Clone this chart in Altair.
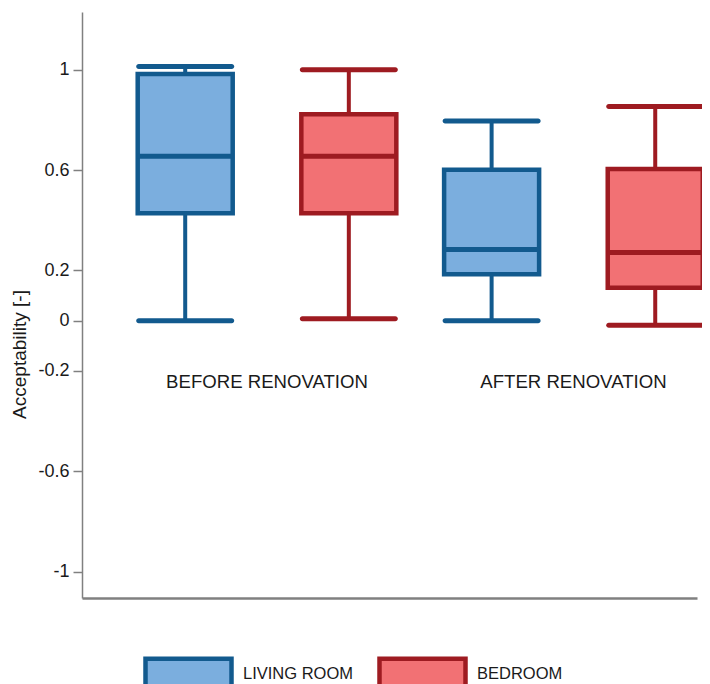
import altair as alt
import pandas as pd

# ---- data ----
groups = ["BEFORE RENOVATION", "AFTER RENOVATION"]
rooms = ["LIVING ROOM", "BEDROOM"]

box_group = [0, 0, 1, 1]
box_room = ["LIVING ROOM", "BEDROOM", "LIVING ROOM", "BEDROOM"]
whisker_low = [0.0, 0.008, 0.0, -0.018]
q1 = [0.428, 0.428, 0.185, 0.131]
median = [0.655, 0.655, 0.284, 0.272]
q3 = [0.983, 0.823, 0.601, 0.604]
whisker_high = [1.013, 1.0, 0.796, 0.853]

y_ticks = [1, 0.6, 0.2, 0, -0.2, -0.6, -1]

fill_colors = ["#7BAEDE", "#F27174"]
edge_colors = ["#125A8E", "#9E1B21"]

edge_of = dict(zip(rooms, edge_colors))
df = pd.DataFrame({
    "g": box_group,
    "room": box_room,
    "edge": [edge_of[r] for r in box_room],
    "lo": whisker_low,
    "q1": q1,
    "med": median,
    "q3": q3,
    "hi": whisker_high,
})
labels_df = pd.DataFrame({"g": [0, 1], "label": groups})

x_scale = alt.Scale(domain=[-0.5875, 1.387], nice=False, zero=False)
y_scale = alt.Scale(domain=[-1.105, 1.23], nice=False, zero=False)

base = alt.Chart(df).transform_calculate(
    pos="datum.g + (datum.room == 'LIVING ROOM' ? -0.267 : 0.267)"
)

x_enc = alt.X(
    "pos:Q", scale=x_scale,
    axis=alt.Axis(labels=False, ticks=False, title=None, grid=False,
                  domainColor="#808080", domainWidth=2.5),
)
y_axis = alt.Axis(
    values=y_ticks, grid=False, title="Acceptability  [-]",
    labelExpr="toString(datum.value)",
    tickSize=9, tickColor="#808080", tickWidth=1.5,
    domainColor="#808080", domainWidth=1.5,
    labelPadding=4, labelFontSize=18, labelColor="#1a1a1a",
    labelFont="Liberation Sans",
    titleFont="Liberation Sans", titleFontSize=19, titleFontWeight="normal",
    titleColor="#1a1a1a", titleX=-63, titleY=342, titleAngle=270,
    titleAlign="center", titleBaseline="middle",
)
edge_color = alt.Color("edge:N", scale=None)

whisker = base.mark_rule(strokeWidth=4).encode(
    x=x_enc,
    y=alt.Y("lo:Q", scale=y_scale, axis=y_axis),
    y2="hi:Q",
    color=edge_color,
)

legend = alt.Legend(
    title=None, orient="none", legendX=61, legendY=616, direction="horizontal",
    symbolType="M-1,-0.35L1,-0.35L1,0.35L-1,0.35Z", symbolSize=7396,
    symbolStrokeWidth=4.5, labelFontSize=16.5, labelFont="Liberation Sans",
    labelColor="#1a1a1a", labelOffset=9, columnPadding=16,
)

box = base.mark_bar(size=95, strokeWidth=4.5, strokeJoin="miter").encode(
    x=x_enc,
    y=alt.Y("q1:Q", scale=y_scale),
    y2="q3:Q",
    fill=alt.Fill("room:N", scale=alt.Scale(domain=rooms, range=fill_colors), legend=legend),
    stroke=alt.Stroke("room:N", scale=alt.Scale(domain=rooms, range=edge_colors), legend=legend),
)

med = base.mark_tick(orient="horizontal", size=96, thickness=5, opacity=1).encode(
    x=x_enc,
    y=alt.Y("med:Q", scale=y_scale),
    color=edge_color,
)

cap_hi = base.mark_tick(orient="horizontal", size=98, thickness=5, cornerRadius=2.5, opacity=1).encode(
    x=x_enc,
    y=alt.Y("hi:Q", scale=y_scale),
    color=edge_color,
)
cap_lo = base.mark_tick(orient="horizontal", size=98, thickness=5, cornerRadius=2.5, opacity=1).encode(
    x=x_enc,
    y=alt.Y("lo:Q", scale=y_scale),
    color=edge_color,
)

text = alt.Chart(labels_df).mark_text(
    font="Liberation Sans", fontSize=18.6, color="#1a1a1a", baseline="middle", align="center"
).encode(
    x=alt.X("g:Q", scale=x_scale),
    y=alt.YDatum(-0.245, scale=y_scale),
    text="label:N",
)

chart = alt.layer(whisker, box, med, cap_hi, cap_lo, text).properties(
    width=615, height=586,
    autosize=alt.AutoSizeParams(type="none"),
    padding={"left": 74, "top": 4, "right": 5, "bottom": 86},
).configure(background="white").configure_view(stroke=None)

chart.save("out.html", embed_options={"renderer": "svg", "actions": False})
